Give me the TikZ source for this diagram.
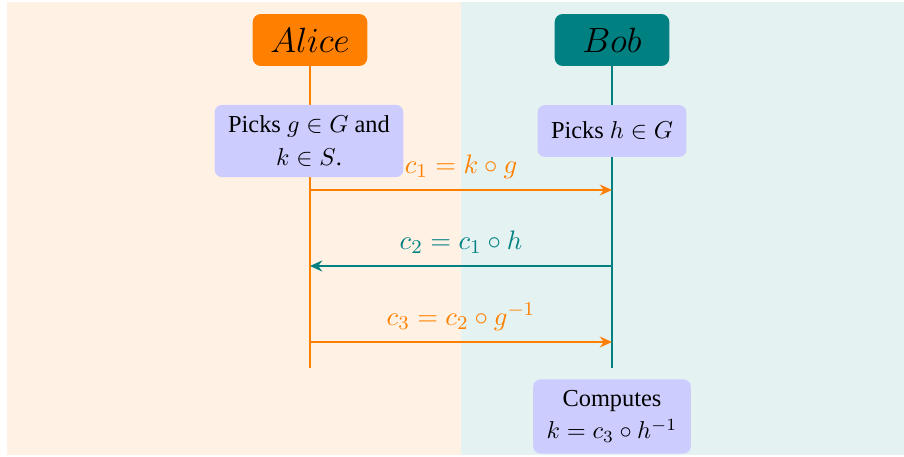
\documentclass[tikz,border=0pt]{standalone}
\usepackage{fontspec}
\setmainfont{Liberation Serif}
\usepackage{xcolor}
\usepackage{tikz}
\usetikzlibrary{arrows.meta}

\begin{document}
\begin{tikzpicture}[x=0.41pt,y=-0.41pt,
    party/.style={rounded corners=3.3pt, minimum width=47pt, minimum height=21.3pt, font=\fontsize{13.4}{16}\selectfont},
    notebox/.style={fill=blue!20, rounded corners=3pt, align=center, inner xsep=5.5pt, inner ysep=4.5pt, minimum height=21.3pt, font=\fontsize{10}{13.3}\selectfont},
    msg/.style={thick, -{Stealth[length=5pt,width=4.5pt]}},
    msglabel/.style={above=3.3pt, inner sep=3pt, text depth=0pt, font=\fontsize{11}{13}\selectfont}]
    \useasboundingbox (0,0) rectangle (904,457);

    % Here I use two coloured halves as background
    \fill[orange!10] (7,2) rectangle (461,455);
    \fill[teal!10] (461,2) rectangle (904,455);

    % the two parties
    \node[party, fill=orange] (alice) at (310,40) {$Alice$};
    \node[party, fill=teal] (bob) at (612,40) {$Bob$};

    % lifelines
    \coordinate (aend) at (310,368);
    \coordinate (bend) at (612,368);
    \draw[thick, orange] (alice.south) -- (aend);
    \draw[thick, teal] (bob.south) -- (bend);

    % what each one picks
    \node[notebox] (apick) at (309,141) {Picks $g\in G$ and\\ $k\in S$.};
    \node[notebox] (bpick) at (612,131) {Picks $h\in G$};

    % the messages
    \coordinate (a1) at (310,190);
    \coordinate (b1) at (612,190);
    \coordinate (a2) at (310,266);
    \coordinate (b2) at (612,266);
    \coordinate (a3) at (310,342);
    \coordinate (b3) at (612,342);
    \draw[msg, orange] (a1) -- node[msglabel] {$c_1=k\circ g$} (b1);
    \draw[msg, teal] (b2) -- node[msglabel] {$c_2=c_1\circ h$} (a2);
    \draw[msg, orange] (a3) -- node[msglabel] {$c_3=c_2\circ g^{-1}$} (b3);

    % using node for the result
    \node[notebox] (result) at (612,416.5) {Computes\\ $k=c_3\circ h^{-1}$};
\end{tikzpicture}
\end{document}
